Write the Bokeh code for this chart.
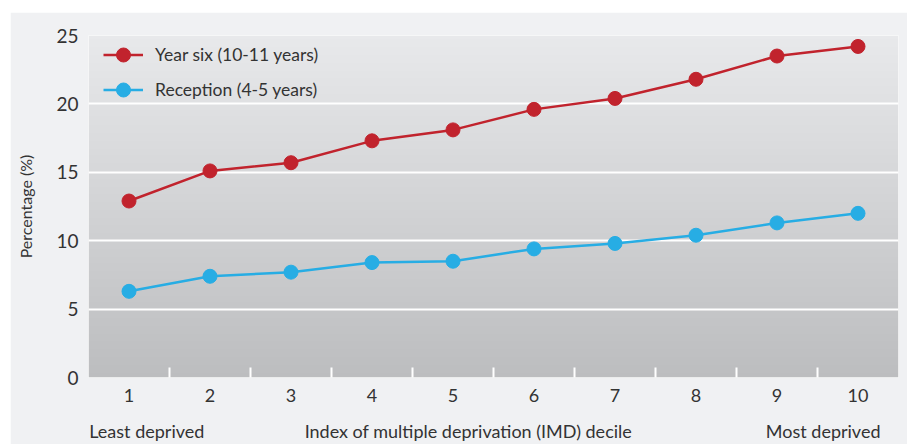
import numpy as np
from bokeh.plotting import figure
from bokeh.models import FixedTicker, Range1d, Legend, LegendItem, LinearAxis
from bokeh.embed import file_html
from bokeh.resources import INLINE

deciles = [1, 2, 3, 4, 5, 6, 7, 8, 9, 10]
year_six = [12.9, 15.1, 15.7, 17.3, 18.1, 19.6, 20.4, 21.8, 23.5, 24.2]
reception = [6.3, 7.4, 7.7, 8.4, 8.5, 9.4, 9.8, 10.4, 11.3, 12.0]
y_ticks = [0, 5, 10, 15, 20, 25]
series_names = ["Year six (10-11 years)", "Reception (4-5 years)"]
colors = ["#c1232d", "#27ade4"]
bottom_texts = ["Least deprived", "Index of multiple deprivation (IMD) decile", "Most deprived"]
bottom_text_pos = [1.22, 5.19, 9.57]

FONT = "Lato"
TEXT = "#333333"

p = figure(width=897, height=432, output_backend="svg", toolbar_location=None,
           x_range=Range1d(0.5, 10.5), y_range=Range1d(0, 25),
           min_border_left=78, min_border_right=9, min_border_top=23, min_border_bottom=67)
p.margin = (12, 0, 0, 10)
p.border_fill_color = "#f0f1f3"
p.outline_line_color = None

# gradient background in the plot area
n = 256
frac = np.linspace(0, 1, n)
top_c = np.array([232, 233, 235])
bot_c = np.array([188, 189, 191])
img = np.zeros((n, 1), dtype=np.uint32)
view = img.view(dtype=np.uint8).reshape((n, 1, 4))
for i, f in enumerate(frac):
    c = bot_c + (top_c - bot_c) * f
    view[i, 0, 0:3] = np.round(c).astype(np.uint8)
    view[i, 0, 3] = 255
bg = p.image_rgba(image=[img], x=0.5, y=0, dw=10, dh=25)
bg.level = "image"

# grid
p.xgrid.visible = False
p.ygrid.ticker = FixedTicker(ticks=y_ticks[1:])
p.ygrid.grid_line_color = "white"
p.ygrid.grid_line_width = 2

# axes
p.xaxis.ticker = FixedTicker(ticks=deciles, minor_ticks=[d + 0.5 for d in deciles[:-1]])
p.xaxis.axis_line_color = None
p.xaxis.major_tick_line_color = None
p.xaxis.major_tick_out = 0
p.xaxis.minor_tick_line_color = "white"
p.xaxis.minor_tick_line_width = 2
p.xaxis.minor_tick_in = 10
p.xaxis.minor_tick_out = 0
p.xaxis.major_label_text_font = FONT
p.xaxis.major_label_text_font_size = "18px"
p.xaxis.major_label_text_color = TEXT
p.xaxis.major_label_text_line_height = 1.0
p.xaxis.major_label_standoff = 11

ax2 = LinearAxis(ticker=FixedTicker(ticks=bottom_text_pos),
                 major_label_overrides={v: t for v, t in zip(bottom_text_pos, bottom_texts)})
ax2.axis_line_color = None
ax2.major_tick_line_color = None
ax2.major_tick_out = 0
ax2.minor_tick_line_color = None
ax2.major_label_text_font = FONT
ax2.major_label_text_font_size = "18px"
ax2.major_label_text_color = TEXT
ax2.major_label_text_line_height = 1.0
ax2.major_label_standoff = 15
p.add_layout(ax2, "below")

p.yaxis.ticker = FixedTicker(ticks=y_ticks)
p.yaxis.axis_line_color = None
p.yaxis.major_tick_line_color = None
p.yaxis.major_tick_out = 0
p.yaxis.minor_tick_line_color = None
p.yaxis.major_label_text_font = FONT
p.yaxis.major_label_text_font_size = "19px"
p.yaxis.major_label_text_color = TEXT
p.yaxis.major_label_standoff = 10
p.yaxis.axis_label = "Percentage (%)"
p.yaxis.axis_label_text_font = FONT
p.yaxis.axis_label_text_font_size = "16px"
p.yaxis.axis_label_text_font_style = "normal"
p.yaxis.axis_label_text_color = TEXT
p.yaxis.axis_label_standoff = 18

# data
items = []
for vals, name, c in zip([year_six, reception], series_names, colors):
    l = p.line(deciles, vals, line_color=c, line_width=2.5)
    s = p.scatter(deciles, vals, size=14, fill_color=c, line_color=c)
    items.append(LegendItem(label=name, renderers=[l, s]))

legend = Legend(items=items, location=(15, 270))
legend.background_fill_alpha = 0
legend.border_line_color = None
legend.label_text_font = FONT
legend.label_text_font_size = "17.5px"
legend.label_text_color = TEXT
legend.glyph_width = 40
legend.glyph_height = 35
legend.label_height = 20
legend.spacing = -8
legend.padding = 0
legend.margin = 0
legend.label_standoff = 12
p.add_layout(legend)

open("out.html", "w").write(file_html(p, INLINE))
